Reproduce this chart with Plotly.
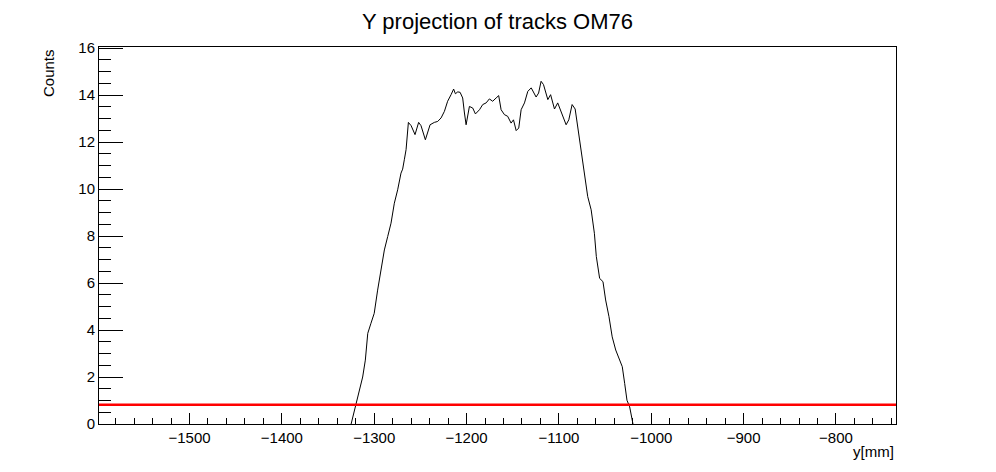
import plotly.graph_objects as go

# Histogram contour (y[mm], counts)
y_mm = [-1325, -1319.7, -1316, -1312.5, -1309.6, -1307, -1303.5, -1300, -1296.3, -1292.6,
        -1289, -1285.4, -1281.8, -1278.2, -1274.6, -1271, -1269.2, -1267.4, -1265.5, -1263,
        -1260, -1255.8, -1251.9, -1249.3, -1244.6, -1239.5, -1234.9, -1231.3, -1227.6, -1224,
        -1220.5, -1216.8, -1214, -1212.1, -1209.5, -1207, -1204.2, -1202.3, -1200.5, -1196.9,
        -1193.3, -1190.4, -1186, -1182.5, -1178.8, -1175.3, -1171.7, -1168, -1165.2, -1162.6,
        -1159, -1155.5, -1151.8, -1149.2, -1146.3, -1143.5, -1140.9, -1137.3, -1133.7, -1130,
        -1127.5, -1124.7, -1122, -1119.3, -1116.7, -1113.8, -1112, -1109, -1106.7, -1104.8,
        -1101.3, -1098.8, -1095.8, -1092.2, -1089.3, -1085.7, -1082.4, -1080.7, -1078.5, -1075.9,
        -1073.1, -1070.5, -1068.8, -1065.1, -1061.6, -1059.5, -1055.9, -1052.3, -1049.4, -1045.8,
        -1042.3, -1038.5, -1034.2, -1031.4, -1028.8, -1026.3, -1023.4, -1021.5, -1019.8]
counts = [0, 0.80, 1.44, 2.0, 2.72, 3.86, 4.29, 4.71, 5.7, 6.56,
          7.41, 7.98, 8.55, 9.4, 9.97, 10.68, 10.85, 11.25, 11.68, 12.84,
          12.7, 12.32, 12.84, 12.7, 12.1, 12.74, 12.84, 12.88, 13.03, 13.31,
          13.74, 14.02, 14.26, 14.06, 14.14, 14.12, 13.88, 13.24, 12.74, 13.52,
          13.45, 13.2, 13.38, 13.6, 13.67, 13.84, 13.74, 13.88, 13.98, 13.38,
          13.17, 13.1, 12.81, 12.95, 12.49, 12.6, 13.38, 13.67, 14.16, 14.31,
          14.1, 13.92, 14.09, 14.59, 14.45, 14.09, 13.81, 14.02, 13.67, 13.41,
          13.67, 13.41, 13.03, 12.74, 12.95, 13.6, 13.41, 12.95, 12.24, 11.54,
          10.85, 10.11, 9.68, 9.12, 8.12, 7.13, 6.2, 6.06, 5.28, 4.57,
          3.71, 3.15, 2.72, 2.44, 1.73, 1.01, 0.73, 0.3, 0]

x_range = [-1598, -735]
y_range = [0, 16.05]
threshold = 0.82

FONT = "Liberation Sans, Arial, sans-serif"

fig = go.Figure()
fig.add_trace(go.Scatter(x=y_mm, y=counts, mode="lines",
                         line=dict(color="black", width=1), showlegend=False,
                         hoverinfo="skip"))
fig.add_trace(go.Scatter(x=x_range, y=[threshold, threshold], mode="lines",
                         line=dict(color="#ff0000", width=2.5), showlegend=False,
                         hoverinfo="skip"))

# page has an 8px body margin, so the figure is sized/positioned accordingly
W, H = 988, 464
fig.update_layout(
    width=W, height=H,
    margin=dict(l=91, r=100, t=39, b=48, pad=0),
    paper_bgcolor="white", plot_bgcolor="white",
    font=dict(family=FONT, size=15, color="black"),
    title=dict(text="Y projection of tracks OM76", x=0.5, xanchor="center",
               xref="paper",
               y=1 - 13 / H, yanchor="middle", font=dict(family=FONT, size=22, color="black")),
    xaxis=dict(range=x_range, showgrid=False, zeroline=False,
               showline=True, linecolor="black", linewidth=1, mirror=True,
               ticks="inside", ticklen=11, tickcolor="black", tickwidth=1,
               tick0=-1500, dtick=100,
               minor=dict(ticks="inside", ticklen=6, dtick=20, tick0=-1500,
                          tickcolor="black", showgrid=False),
               tickfont=dict(family=FONT, size=15)),
    yaxis=dict(range=y_range, showgrid=False, zeroline=False,
               showline=True, linecolor="black", linewidth=1, mirror=True,
               ticks="inside", ticklen=24, tickcolor="black", tickwidth=1,
               tick0=0, dtick=2,
               minor=dict(ticks="inside", ticklen=12, dtick=0.5, tick0=0,
                          tickcolor="black", showgrid=False),
               tickfont=dict(family=FONT, size=15)),
    annotations=[
        dict(text="y[mm]", xref="paper", yref="paper", x=1.0, y=0, xanchor="right",
             yanchor="middle", yshift=-27, showarrow=False, font=dict(family=FONT, size=15)),
        dict(text="Counts", xref="paper", yref="paper", x=0, y=1.0, xanchor="center",
             yanchor="top", xshift=-51, yshift=0, textangle=-90, showarrow=False,
             font=dict(family=FONT, size=15)),
    ],
)

fig.write_html("out.html")
